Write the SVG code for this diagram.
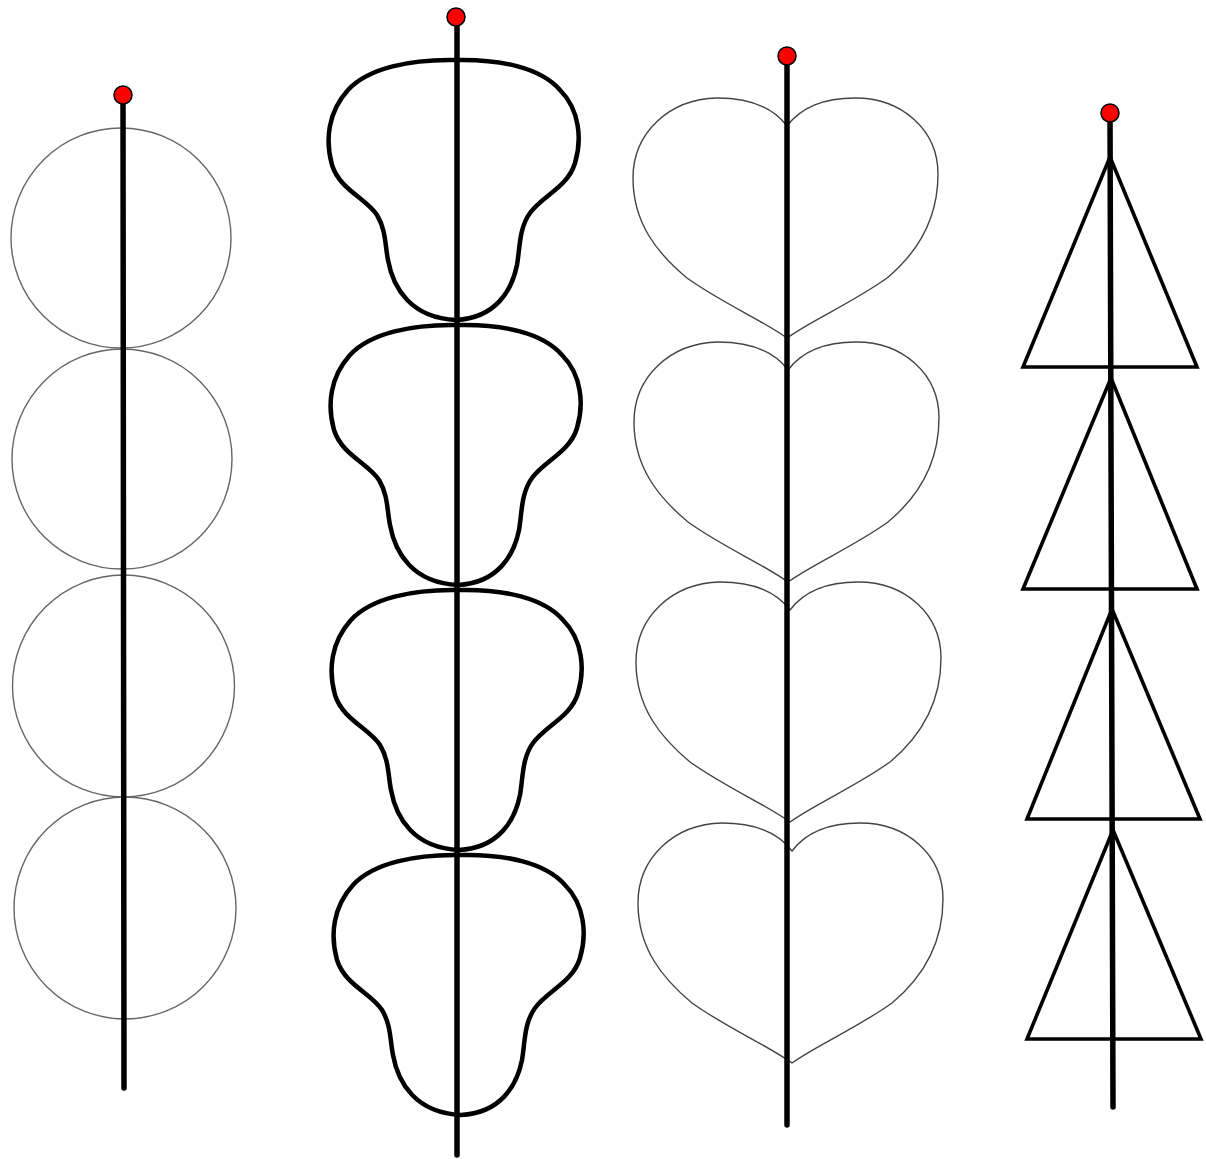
<svg xmlns="http://www.w3.org/2000/svg" xmlns:xlink="http://www.w3.org/1999/xlink" width="1206" height="1159" viewBox="0 0 1206 1159">
<style>
.circ{fill:none;stroke:#666;stroke-width:1.4}
.blob{fill:none;stroke:#000;stroke-width:4.5}
.heart{fill:none;stroke:#444;stroke-width:1.4}
.tri{fill:none;stroke:#000;stroke-width:3.6;stroke-linejoin:miter}
.stick{fill:none;stroke:#000;stroke-width:5.5;stroke-linecap:round}
.dot{fill:#f00;stroke:#000;stroke-width:1.5}
</style>
<defs>
<path id="blobShape" d="M0,0 C-45,-1 -88,8 -108,30 C-128,52 -131,80 -124,105 C-116,130 -90,138 -79,155 C-70,170 -71,185 -68,200 C-63,228 -45,258 0,260 C40,258 56,230 61,205 C64,188 63,168 74,153 C86,136 112,127 119,103 C126,80 124,50 104,30 C85,8 45,-1 0,0 Z"/>
<path id="heartShape" d="M0,28 C-15,8 -40,0 -70,0 C-118,1 -154,35 -154,80 C-154,125 -130,155 -100,180 C-65,205 -25,222 0,240 C25,222 65,205 100,180 C130,155 151,122 151,76 C151,32 115,0 68,0 C40,0 15,8 0,28 Z"/>
</defs>
<rect width="1206" height="1159" fill="#fff"/>
<g id="column-circles">
<circle class="circ" cx="121" cy="238" r="110"/>
<circle class="circ" cx="122" cy="459" r="110"/>
<circle class="circ" cx="123.5" cy="686" r="111"/>
<circle class="circ" cx="125" cy="908" r="111"/>
</g>
<g id="column-blobs">
<use class="blob" xlink:href="#blobShape" href="#blobShape" transform="translate(456,60)"/>
<use class="blob" xlink:href="#blobShape" href="#blobShape" transform="translate(458,325)"/>
<use class="blob" xlink:href="#blobShape" href="#blobShape" transform="translate(459,590)"/>
<use class="blob" xlink:href="#blobShape" href="#blobShape" transform="translate(461,855)"/>
</g>
<g id="column-hearts">
<use class="heart" xlink:href="#heartShape" href="#heartShape" transform="translate(787,98)"/>
<use class="heart" xlink:href="#heartShape" href="#heartShape" transform="translate(788,342)"/>
<use class="heart" xlink:href="#heartShape" href="#heartShape" transform="translate(790,582)"/>
<use class="heart" xlink:href="#heartShape" href="#heartShape" transform="translate(792,823)"/>
</g>
<g id="column-triangles">
<polygon class="tri" points="1110,157 1197,367 1023,367"/>
<polygon class="tri" points="1111,378 1197,589 1023,589"/>
<polygon class="tri" points="1112,609 1200,819 1027,819"/>
<polygon class="tri" points="1113,830 1201,1039 1027,1039"/>
</g>
<g id="connectors">
<line class="stick" x1="123" y1="95" x2="124" y2="1088"/>
<line class="stick" x1="457" y1="17" x2="457" y2="1155"/>
<line class="stick" x1="787" y1="56" x2="787" y2="1125"/>
<line class="stick" x1="1110" y1="113" x2="1113" y2="1107"/>
</g>
<g id="dots">
<circle class="dot" cx="123" cy="95" r="9"/>
<circle class="dot" cx="456" cy="17" r="9"/>
<circle class="dot" cx="787" cy="56" r="9"/>
<circle class="dot" cx="1110" cy="113" r="9"/>
</g>
</svg>
